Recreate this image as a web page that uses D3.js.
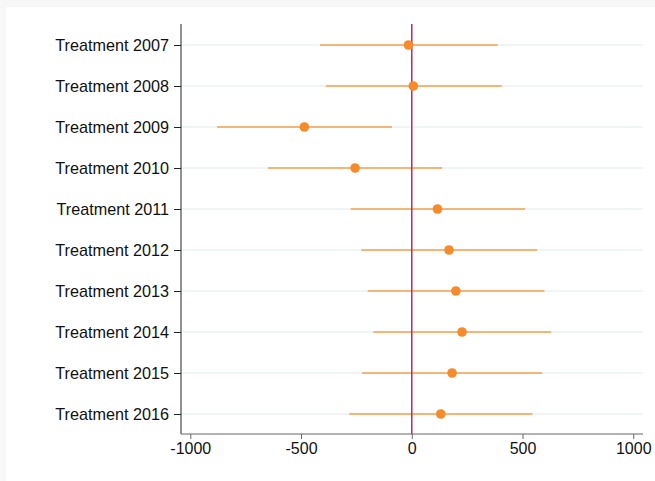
<!DOCTYPE html>
<html>
<head>
<meta charset="utf-8">
<script src="https://cdn.jsdelivr.net/npm/d3@7"></script>
<style>
  html, body { margin: 0; padding: 0; background: #f7f7f7; }
  svg { display: block; }
  text { font-family: "Liberation Sans", Arial, sans-serif; }
</style>
</head>
<body>
<div id="chart"></div>
<script>
// coefficient plot, one row per treatment year
var labels = ["Treatment 2007", "Treatment 2008", "Treatment 2009", "Treatment 2010",
              "Treatment 2011", "Treatment 2012", "Treatment 2013", "Treatment 2014",
              "Treatment 2015", "Treatment 2016"];
var est   = [-15, 7, -485, -256, 116, 168, 199, 227, 182, 131];
var lower = [-414, -388, -879, -649, -276, -228, -199, -173, -224, -282];
var upper = [388, 406, -89, 137, 512, 566, 599, 629, 589, 545];
var xTicks = [-1000, -500, 0, 500, 1000];

var W = 655, H = 481;
// note: "top" is taken by window.top, so plot edges get their own names
var plotL = 181, plotR = 643, plotT = 24, plotB = 434;

var svg = d3.select("#chart").append("svg")
    .attr("width", W)
    .attr("height", H);

// white panel
svg.append("rect")
    .attr("x", 6).attr("y", 7)
    .attr("width", W - 6).attr("height", H - 7)
    .attr("fill", "#fff");

var x = d3.scaleLinear().domain([-1042, 1044]).range([plotL, plotR]);
var y = d3.scalePoint().domain(labels).range([45, 414]);

// gridlines
svg.append("g").selectAll("line")
    .data(labels).enter().append("line")
    .attr("x1", plotL).attr("x2", plotR)
    .attr("y1", function(d){ return y(d); })
    .attr("y2", function(d){ return y(d); })
    .attr("stroke", "#eaf0f2")
    .attr("stroke-width", 1.5);

// y axis
var yAxis = svg.append("g")
    .attr("transform", "translate(" + plotL + ",0)")
    .call(d3.axisLeft(y).tickSize(7).tickPadding(5));
yAxis.select(".domain").attr("d", "M0," + plotT + "V" + plotB).attr("stroke", "#222");
yAxis.selectAll(".tick line").attr("stroke", "#222");
yAxis.selectAll("text").attr("font-size", 16.2).attr("fill", "#111")
    .style("font-family", "'Liberation Sans', Arial, sans-serif");

// x axis
var xAxis = svg.append("g")
    .attr("transform", "translate(0," + plotB + ")")
    .call(d3.axisBottom(x).tickValues(xTicks).tickFormat(function(d){ return String(d); })
          .tickSize(5).tickPadding(4));
xAxis.select(".domain").attr("d", "M" + plotL + ",0H" + plotR).attr("stroke", "#666");
xAxis.selectAll(".tick line").attr("stroke", "#666");
xAxis.selectAll("text").attr("font-size", 16).attr("fill", "#111")
    .style("font-family", "'Liberation Sans', Arial, sans-serif");

// confidence intervals
svg.append("g").selectAll("line")
    .data(labels).enter().append("line")
    .attr("x1", function(d, i){ return x(lower[i]); })
    .attr("x2", function(d, i){ return x(upper[i]); })
    .attr("y1", function(d){ return y(d); })
    .attr("y2", function(d){ return y(d); })
    .attr("stroke", "#f7a04c")
    .attr("stroke-width", 1.7);

// zero line
svg.append("line")
    .attr("x1", x(0)).attr("x2", x(0))
    .attr("y1", plotT).attr("y2", plotB)
    .attr("stroke", "#c02a58")
    .attr("stroke-width", 1.5);

// point estimates
svg.append("g").selectAll("circle")
    .data(labels).enter().append("circle")
    .attr("cx", function(d, i){ return x(est[i]); })
    .attr("cy", function(d){ return y(d); })
    .attr("r", 4.8)
    .attr("fill", "#f78b2b");
</script>
</body>
</html>
